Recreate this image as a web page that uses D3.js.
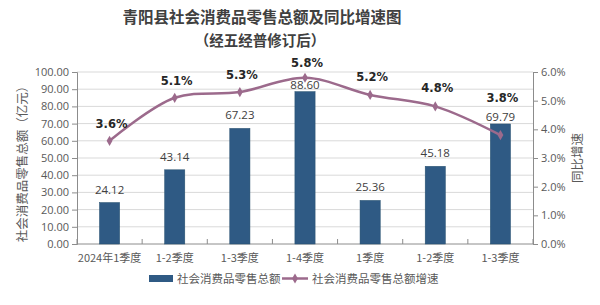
<!DOCTYPE html>
<html>
<head>
<meta charset="utf-8">
<script src="https://cdn.jsdelivr.net/npm/d3@7"></script>
<style>
  body { margin: 0; background: #fff; }
  svg { display: block; font-family: "Noto Sans CJK SC", "Open Sans", sans-serif; }
</style>
</head>
<body>
<div id="chart"></div>
<script>
// chart data
const categories = ["2024年1季度", "1-2季度", "1-3季度", "1-4季度", "1季度", "1-2季度", "1-3季度"];
const salesValues = [24.12, 43.14, 67.23, 88.60, 25.36, 45.18, 69.79];
const growthValues = [3.6, 5.1, 5.3, 5.8, 5.2, 4.8, 3.8];
const leftTicks = [0, 10, 20, 30, 40, 50, 60, 70, 80, 90, 100];
const rightTicks = [0, 1, 2, 3, 4, 5, 6];

// layout
const W = 600, H = 305;
const margin = {top: 72, right: 67, bottom: 61, left: 77};
const width = W - margin.left - margin.right,
      height = H - margin.top - margin.bottom;

const barColor = "#2f5a84";
const lineColor = "#9c6a8c";
const textColor = "#595959";

const svg = d3.select("#chart")
    .append("svg")
    .attr("width", W)
    .attr("height", H);

// title
svg.append("text")
    .attr("x", 262).attr("y", 23)
    .attr("text-anchor", "middle")
    .attr("font-size", 15.5).attr("font-weight", "bold")
    .attr("fill", "#404040")
    .text("青阳县社会消费品零售总额及同比增速图");
svg.append("text")
    .attr("x", 260).attr("y", 46)
    .attr("text-anchor", "middle")
    .attr("font-size", 14.5).attr("font-weight", "bold")
    .attr("fill", "#404040")
    .text("（经五经普修订后）");

const g = svg.append("g")
    .attr("transform", `translate(${margin.left}, ${margin.top})`);

const x = d3.scaleBand()
    .domain(d3.range(categories.length))
    .range([0, width])
    .paddingInner(0.69)
    .paddingOuter(0.345);

const yLeft = d3.scaleLinear().domain([0, 100]).range([height, 0]);
const yRight = d3.scaleLinear().domain([0, 6]).range([height, 0]);

// gridlines
g.append("g")
    .selectAll("line")
    .data(leftTicks.slice(1))
    .enter()
    .append("line")
        .attr("x1", 0).attr("x2", width)
        .attr("y1", d => yLeft(d)).attr("y2", d => yLeft(d))
        .attr("stroke", "#d9d9d9").attr("stroke-width", 1);

// left axis
const leftAxis = g.append("g")
    .call(d3.axisLeft(yLeft).tickValues(leftTicks).tickFormat(d3.format(".2f")).tickSize(5).tickPadding(3));
leftAxis.select(".domain").attr("stroke", "#8c8c8c");
leftAxis.selectAll(".tick line").attr("stroke", "#8c8c8c");
leftAxis.selectAll(".tick text").attr("fill", textColor).attr("font-size", 11)
    .attr("font-family", "Open Sans, sans-serif");

// right axis
const rightAxis = g.append("g")
    .attr("transform", `translate(${width}, 0)`)
    .call(d3.axisRight(yRight).tickValues(rightTicks).tickFormat(d => d.toFixed(1) + "%").tickSize(5).tickPadding(3));
rightAxis.select(".domain").attr("stroke", "#8c8c8c");
rightAxis.selectAll(".tick line").attr("stroke", "#8c8c8c");
rightAxis.selectAll(".tick text").attr("fill", textColor).attr("font-size", 11)
    .attr("font-family", "Open Sans, sans-serif");

// bottom axis: line plus boundary ticks pointing up
const step = x.step();
g.append("line")
    .attr("x1", 0).attr("x2", width)
    .attr("y1", height).attr("y2", height)
    .attr("stroke", "#8c8c8c");
g.append("g")
    .selectAll("line")
    .data(d3.range(categories.length + 1))
    .enter()
    .append("line")
        .attr("x1", i => i * step).attr("x2", i => i * step)
        .attr("y1", height).attr("y2", height - 5)
        .attr("stroke", "#8c8c8c");
g.append("g")
    .selectAll("text")
    .data(categories)
    .enter()
    .append("text")
        .attr("x", (d, i) => x(i) + x.bandwidth() / 2)
        .attr("y", height + 18)
        .attr("text-anchor", "middle")
        .attr("font-size", 11)
        .attr("fill", textColor)
        .text(d => d);

// axis titles
svg.append("text")
    .attr("transform", `translate(27, ${margin.top + height / 2 + 3}) rotate(-90)`)
    .attr("text-anchor", "middle")
    .attr("font-size", 12.5)
    .attr("fill", textColor)
    .text("社会消费品零售总额（亿元）");
svg.append("text")
    .attr("transform", `translate(582, ${margin.top + height / 2}) rotate(-90)`)
    .attr("text-anchor", "middle")
    .attr("font-size", 12.5)
    .attr("fill", textColor)
    .text("同比增速");

// bars
g.selectAll(".bar")
    .data(salesValues)
    .enter()
    .append("rect")
        .attr("class", "bar")
        .attr("x", (d, i) => x(i))
        .attr("y", d => yLeft(d))
        .attr("width", x.bandwidth())
        .attr("height", d => height - yLeft(d))
        .attr("fill", barColor)
        .attr("stroke", "#27506f")
        .attr("stroke-width", 0.5);

// bar labels, lifted less where they sit close to the line
const barLabelLift = [9, 9, 9, 3, 9, 9, 3];
g.selectAll(".barLabel")
    .data(salesValues)
    .enter()
    .append("text")
        .attr("x", (d, i) => x(i) + x.bandwidth() / 2)
        .attr("y", (d, i) => yLeft(d) - barLabelLift[i])
        .attr("text-anchor", "middle")
        .attr("font-size", 11.5)
        .attr("fill", "#404040")
        .attr("font-family", "Open Sans, sans-serif")
        .text(d => d.toFixed(2));

// growth line
const line = d3.line()
    .x((d, i) => x(i) + x.bandwidth() / 2)
    .y(d => yRight(d))
    .curve(d3.curveCatmullRom.alpha(0.5));

g.append("path")
    .datum(growthValues)
    .attr("d", line)
    .attr("fill", "none")
    .attr("stroke", lineColor)
    .attr("stroke-width", 2.5);

g.selectAll(".marker")
    .data(growthValues)
    .enter()
    .append("path")
        .attr("d", d3.symbol().type(d3.symbolDiamond).size(30))
        .attr("transform", (d, i) => `translate(${x(i) + x.bandwidth() / 2}, ${yRight(d)})`)
        .attr("fill", lineColor);

const growthLabelLift = [13, 13, 13, 11, 14, 14, 33];
g.selectAll(".growthLabel")
    .data(growthValues)
    .enter()
    .append("text")
        .attr("x", (d, i) => x(i) + x.bandwidth() / 2 + 2)
        .attr("y", (d, i) => yRight(d) - growthLabelLift[i])
        .attr("text-anchor", "middle")
        .attr("font-size", 11.5)
        .attr("font-weight", "bold")
        .attr("fill", "#262626")
        .attr("font-family", "DejaVu Sans, sans-serif")
        .text(d => d.toFixed(1) + "%");

// legend
const legend = svg.append("g").attr("transform", "translate(0, 278)");
legend.append("rect")
    .attr("x", 149).attr("y", -3).attr("width", 24).attr("height", 7)
    .attr("fill", barColor);
legend.append("text")
    .attr("x", 177).attr("y", 4.5)
    .attr("font-size", 11.5).attr("fill", textColor)
    .text("社会消费品零售总额");
legend.append("line")
    .attr("x1", 282).attr("x2", 308).attr("y1", 0.5).attr("y2", 0.5)
    .attr("stroke", lineColor).attr("stroke-width", 2.5);
legend.append("path")
    .attr("d", d3.symbol().type(d3.symbolDiamond).size(30))
    .attr("transform", "translate(295, 0.5)")
    .attr("fill", lineColor);
legend.append("text")
    .attr("x", 312).attr("y", 4.5)
    .attr("font-size", 11.5).attr("fill", textColor)
    .text("社会消费品零售总额增速");
</script>
</body>
</html>
